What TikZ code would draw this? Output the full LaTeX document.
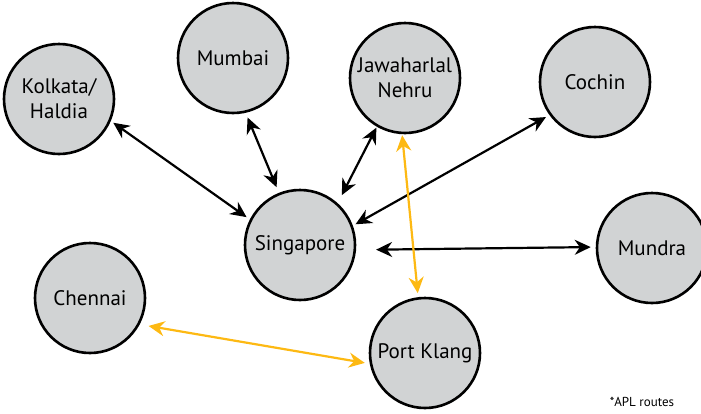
\documentclass[tikz,border=0pt]{standalone}
\usepackage{fontspec}
\setmainfont{PT Sans}
\usetikzlibrary{arrows.meta}
\definecolor{portgray}{RGB}{209,211,212}
\definecolor{aplyellow}{RGB}{253,185,19}
\tikzset{
  port/.style   = {shape=circle, draw, line width=1.3pt, fill=portgray,
                   minimum size=55pt, inner sep=0pt, align=center,
                   font=\fontsize{10.5}{12.5}\selectfont},
  route/.style  = {line width=1.1pt, {Stealth[length=8pt,width=7.5pt]}-{Stealth[length=8pt,width=7.5pt]}},
  aplroute/.style = {route, draw=aplyellow}
}
\begin{document}
\begin{tikzpicture}[x=0.5pt,y=-0.5pt]
  \useasboundingbox (0,0) rectangle (701,413);

  % ports
  \node[port] (kol) at (59,99)   {Kolkata/\\Haldia};
  \node[port] (mum) at (233,58)  {Mumbai};
  \node[port] (jnp) at (405,78)  {Jawaharlal\\Nehru};
  \node[port] (coc) at (595,82)  {Cochin};
  \node[port] (sin) at (300,245) {Singapore};
  \node[port] (mun) at (652,248) {Mundra};
  \node[port] (che) at (90,298)  {Chennai};
  \node[port] (pkl) at (425,353) {Port Klang};

  % routes
  \draw[route, shorten <=1.5pt, shorten >=2pt] (kol.-23) -- (sin.153);
  \draw[route, shorten <=2.5pt, shorten >=3pt] (mum.-77) -- (sin.112);
  \draw[route, shorten <=0.5pt, shorten >=4.5pt] (jnp.-120) -- (sin.48);
  \draw[route, shorten <=2pt, shorten >=1.5pt] (coc.-144) -- (sin.20);
  \draw[route, shorten <=10pt, shorten >=2.5pt] (sin.-5) -- (mun.179);

  % APL routes
  \draw[aplroute, shorten <=0.5pt, shorten >=2pt] (jnp.-93) -- (pkl.97);
  \draw[aplroute, shorten <=4.5pt, shorten >=2.5pt] (che.-28) -- (pkl.-169);

  \node[font=\fontsize{6.5}{8}\selectfont, anchor=base] (note) at (642,406) {*APL routes};
\end{tikzpicture}
\end{document}
